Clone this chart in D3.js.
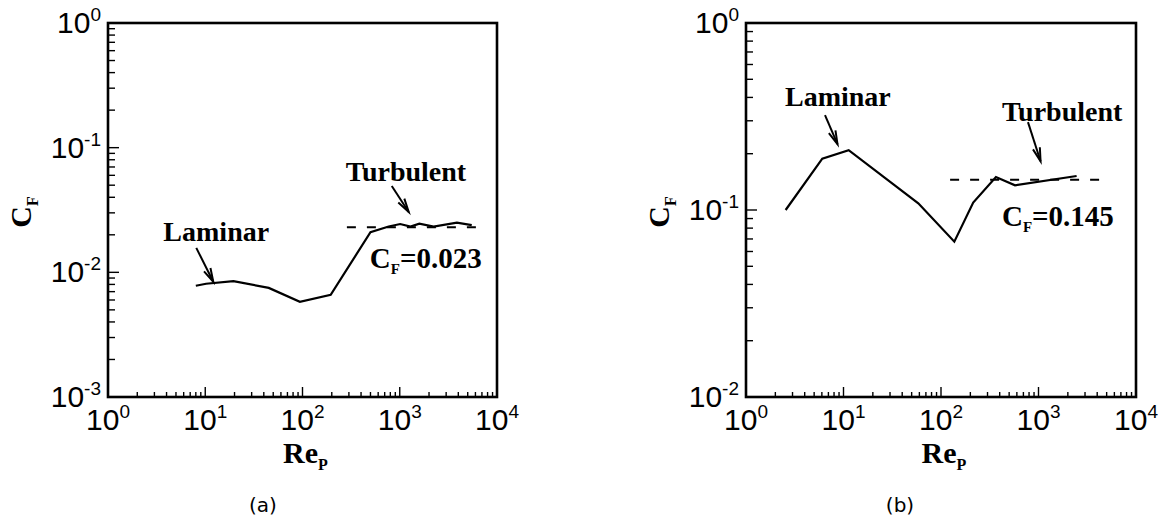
<!DOCTYPE html>
<html>
<head>
<meta charset="utf-8">
<script src="https://cdn.jsdelivr.net/npm/d3@7"></script>
<style>
  html, body { margin: 0; padding: 0; background: #fff; }
  svg { display: block; }
</style>
</head>
<body>
<svg id="chart" width="1166" height="523"></svg>
<script>
// Skin-friction coefficient versus particle Reynolds number, two cases.
const reA = [8.0, 10.2, 19.5, 45, 94, 195, 500, 770, 1010, 1290, 1590, 2230, 3870, 5500];
const cfA = [0.0078, 0.0081, 0.0085, 0.0075, 0.0058, 0.0066, 0.021, 0.0233, 0.0244, 0.0233, 0.0246, 0.0233, 0.025, 0.0239];
const cfTurbA = 0.023;
const dashRangeA = [286, 7800];

const reB = [2.55, 6.06, 11.3, 58.5, 137, 214, 366, 574, 2460];
const cfB = [0.100, 0.188, 0.209, 0.1086, 0.0677, 0.1095, 0.150, 0.1356, 0.152];
const cfTurbB = 0.145;
const dashRangeB = [124, 5160];

const xTickExps = [0, 1, 2, 3, 4];
const yTickExpsA = [-3, -2, -1, 0];
const yTickExpsB = [-2, -1, 0];

const svg = d3.select("#chart");
const serif = "'Liberation Serif', 'Times New Roman', serif";
const sans = "'Liberation Sans', Arial, Helvetica, sans-serif";

function drawPanel(cfg) {
  const x = d3.scaleLog().domain([1, 1e4]).range([cfg.left, cfg.right]);
  const y = d3.scaleLog().domain(cfg.yDomain).range([cfg.bottom, cfg.top]);
  const g = svg.append("g");

  // minor + major ticks (inward, left and bottom only)
  const xTicks = x.ticks();
  const yTicks = y.ticks();
  const isMajor = v => Math.abs(Math.log10(v) - Math.round(Math.log10(v))) < 1e-9;

  g.selectAll(".xt").data(xTicks).enter().append("line")
    .attr("x1", d => x(d)).attr("x2", d => x(d))
    .attr("y1", cfg.bottom).attr("y2", d => cfg.bottom - (isMajor(d) ? 10 : 5))
    .attr("stroke", "#000").attr("stroke-width", 1.4);
  g.selectAll(".yt").data(yTicks).enter().append("line")
    .attr("y1", d => y(d)).attr("y2", d => y(d))
    .attr("x1", cfg.left).attr("x2", d => cfg.left + (isMajor(d) ? 11 : 7))
    .attr("stroke", "#000").attr("stroke-width", 1.4);

  // frame
  g.append("rect")
    .attr("x", cfg.left).attr("y", cfg.top)
    .attr("width", cfg.right - cfg.left).attr("height", cfg.bottom - cfg.top)
    .attr("fill", "none").attr("stroke", "#000").attr("stroke-width", 2.6);

  // x tick labels 10^n
  xTickExps.forEach(e => {
    const t = g.append("text")
      .attr("x", x(Math.pow(10, e))).attr("y", cfg.bottom + 33)
      .attr("text-anchor", "middle")
      .attr("font-family", sans).attr("font-size", 30).attr("fill", "#000");
    t.append("tspan").text("10");
    t.append("tspan").attr("dy", -12).attr("font-size", 19).text(String(e));
  });

  // y tick labels 10^n
  cfg.yExps.forEach(e => {
    const t = g.append("text")
      .attr("x", cfg.left - 7).attr("y", y(Math.pow(10, e)) + 10)
      .attr("text-anchor", "end")
      .attr("font-family", sans).attr("font-size", 30).attr("fill", "#000");
    t.append("tspan").text("10");
    t.append("tspan").attr("dy", -12).attr("font-size", 19).text(String(e));
  });

  // axis titles
  const xt = g.append("text")
    .attr("x", (cfg.left + cfg.right) / 2 + 3).attr("y", cfg.bottom + 66)
    .attr("text-anchor", "middle")
    .attr("font-family", serif).attr("font-weight", "bold").attr("font-size", 30);
  xt.append("tspan").text("Re");
  xt.append("tspan").attr("dy", 7).attr("font-size", 16).text("P");

  const yt = g.append("text")
    .attr("transform", `translate(${cfg.left - 77},${(cfg.top + cfg.bottom) / 2 + 2}) rotate(-90)`)
    .attr("text-anchor", "middle")
    .attr("font-family", serif).attr("font-weight", "bold").attr("font-size", 30);
  yt.append("tspan").text("C");
  yt.append("tspan").attr("dy", 7).attr("font-size", 16).text("F");

  // reference constant
  g.append("line")
    .attr("x1", x(cfg.dash[0])).attr("x2", x(cfg.dash[1]))
    .attr("y1", y(cfg.cfTurb)).attr("y2", y(cfg.cfTurb))
    .attr("stroke", "#000").attr("stroke-width", 2).attr("stroke-dasharray", "9,11");

  // data curve
  const pts = cfg.re.map((r, i) => [r, cfg.cf[i]]);
  g.append("path")
    .attr("d", d3.line().x(d => x(d[0])).y(d => y(d[1]))(pts))
    .attr("fill", "none").attr("stroke", "#000").attr("stroke-width", 2.2)
    .attr("stroke-linejoin", "miter");

  // annotations
  cfg.notes.forEach(n => {
    g.append("text")
      .attr("x", x(n.at[0])).attr("y", y(n.at[1]))
      .attr("font-family", serif).attr("font-weight", "bold").attr("font-size", 28)
      .text(n.text);
  });
  cfg.arrows.forEach(a => {
    const x1 = x(a.from[0]), y1 = y(a.from[1]);
    const x2 = x(a.to[0]), y2 = y(a.to[1]);
    g.append("line").attr("x1", x1).attr("y1", y1).attr("x2", x2).attr("y2", y2)
      .attr("stroke", "#000").attr("stroke-width", 2);
    const ang = Math.atan2(y2 - y1, x2 - x1);
    const L = 14, spread = 0.26;
    const p1 = [x2 - L * Math.cos(ang - spread), y2 - L * Math.sin(ang - spread)];
    const p2 = [x2 - L * Math.cos(ang + spread), y2 - L * Math.sin(ang + spread)];
    g.append("path")
      .attr("d", `M${p1[0]},${p1[1]}L${x2},${y2}L${p2[0]},${p2[1]}`)
      .attr("fill", "none").attr("stroke", "#000").attr("stroke-width", 2);
  });

  // C_F = value label
  const cl = g.append("text")
    .attr("x", x(cfg.cfLabelAt[0])).attr("y", y(cfg.cfLabelAt[1]))
    .attr("font-family", serif).attr("font-weight", "bold").attr("font-size", 29);
  cl.append("tspan").text("C");
  cl.append("tspan").attr("dy", 6).attr("font-size", 15).text("F");
  cl.append("tspan").attr("dy", -6).text("=" + cfg.cfTurb.toString());

  // caption
  svg.append("text")
    .attr("x", cfg.captionX).attr("y", 512)
    .attr("text-anchor", "middle")
    .attr("font-family", "'DejaVu Sans', sans-serif").attr("font-size", 20)
    .text(cfg.caption);
}

drawPanel({
  left: 108, right: 497, top: 23, bottom: 397,
  yDomain: [1e-3, 1], yExps: yTickExpsA,
  re: reA, cf: cfA, cfTurb: cfTurbA, dash: dashRangeA,
  notes: [
    { text: "Laminar", at: [3.71, 0.0177] },
    { text: "Turbulent", at: [279, 0.0541] }
  ],
  arrows: [
    { from: [8.09, 0.0157], to: [12.1, 0.0084] },
    { from: [828, 0.0493], to: [1236, 0.0305] }
  ],
  cfLabelAt: [492, 0.0109],
  caption: "(a)", captionX: 263
});

drawPanel({
  left: 746, right: 1136, top: 23, bottom: 397,
  yDomain: [1e-2, 1], yExps: yTickExpsB,
  re: reB, cf: cfB, cfTurb: cfTurbB, dash: dashRangeB,
  notes: [
    { text: "Laminar", at: [2.51, 0.3605] },
    { text: "Turbulent", at: [422, 0.2985] }
  ],
  arrows: [
    { from: [6.46, 0.3215], to: [8.68, 0.2249] },
    { from: [780, 0.295], to: [1050, 0.1824] }
  ],
  cfLabelAt: [422, 0.0818],
  caption: "(b)", captionX: 900
});
</script>
</body>
</html>
